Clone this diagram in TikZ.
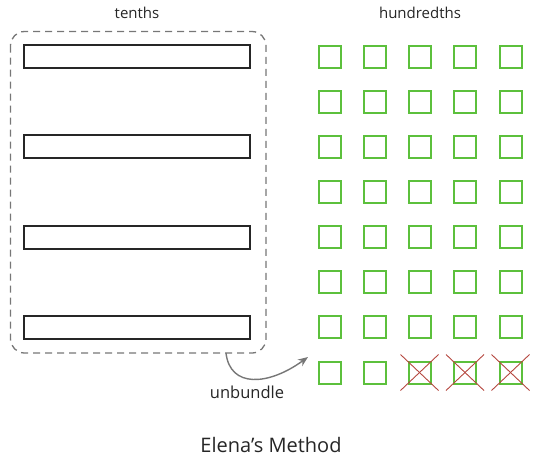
\documentclass[tikz,border=0pt]{standalone}
\usepackage{fontspec}
\setmainfont{Open Sans}
\usetikzlibrary{arrows.meta}
\definecolor{sqgreen}{HTML}{5CC03C}
\definecolor{xred}{HTML}{B5473F}
\definecolor{dgray}{HTML}{777777}
\tikzset{
  bar/.style={draw=black!85, line width=1.4pt, minimum width=226pt, minimum height=23pt, inner sep=0pt},
  hsq/.style={draw=sqgreen, line width=2pt, minimum size=22pt, inner sep=0pt},
  bundle/.style={draw=dgray, line width=1.3pt, dash pattern=on 7pt off 5pt, rounded corners=14pt},
  xline/.style={draw=xred, line width=0.9pt},
  lbl/.style={font=\fontsize{15}{17}\selectfont, text=black!85, inner sep=0pt},
  unblbl/.style={font=\fontsize{16.5}{18}\selectfont, text=black!85, inner sep=0pt},
  ttl/.style={font=\fontsize{20}{23}\selectfont, text=black!85, inner sep=0pt},
  unb/.style={draw=dgray, line width=1.4pt, -{Stealth[length=10pt,width=8pt]}}
}
\begin{document}
\begin{tikzpicture}[x=1pt,y=-1pt]
\useasboundingbox (0,0) rectangle (537,461);
\node[lbl] (tl) at (137,13) {tenths};
\node[lbl] (hl) at (420,13) {hundredths};
\draw[bundle] (10.5,31.5) rectangle (266,353);
\coordinate (bstart) at (226,353);
\foreach \i/\y in {1/56.5,2/146.5,3/237.5,4/327.5}{
  \node[bar] (t\i) at (137,\y) {};
}
\foreach \c/\x in {1/329.5,2/374.5,3/419.5,4/465,5/510.5}{
  \foreach \r/\y in {1/56.5,2/101.5,3/146.5,4/191.5,5/236.5,6/281.5,7/327,8/372.5}{
    \node[hsq] (s\r\c) at (\x,\y) {};
  }
}
\foreach \c in {3,4,5}{
  \draw[xline] ([shift={(-19,-18)}]s8\c.center) -- ([shift={(19,18)}]s8\c.center);
  \draw[xline] ([shift={(-19,18)}]s8\c.center) -- ([shift={(19,-18)}]s8\c.center);
}
\coordinate (aend) at (308,357);
\draw[unb] (bstart) .. controls (230,388) and (268,386) .. (aend);
\node[unblbl] (ul) at (247,392) {unbundle};
\node[ttl] (title) at (271,445) {Elena’s Method};
\end{tikzpicture}
\end{document}
